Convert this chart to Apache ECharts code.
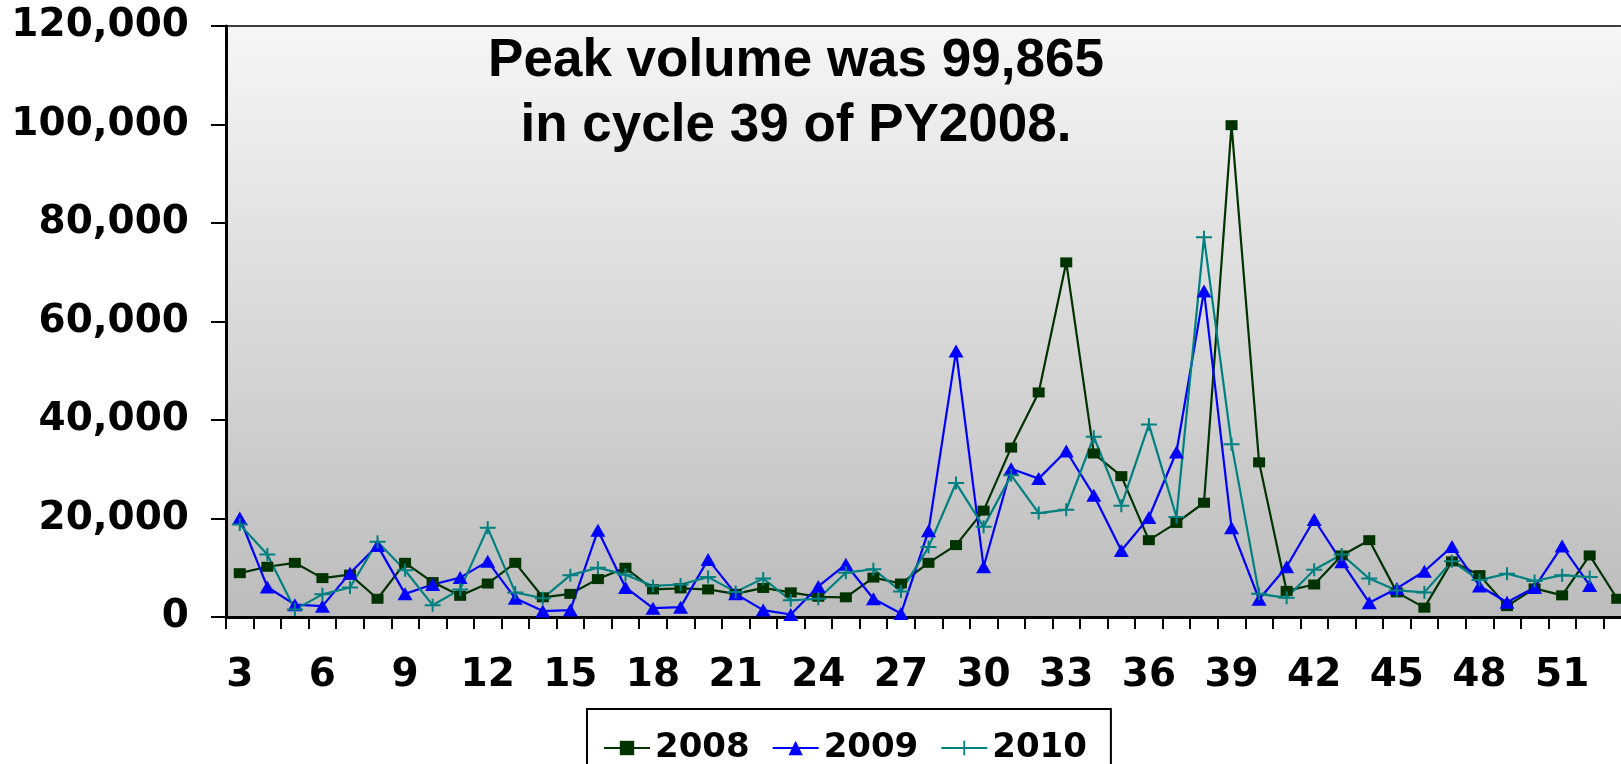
<!DOCTYPE html>
<html>
<head>
<meta charset="utf-8">
<title>Weekly volume by cycle</title>
<script src="https://cdn.jsdelivr.net/npm/echarts@6/dist/echarts.min.js"></script>
<style>
  html, body { margin: 0; padding: 0; background: #ffffff; }
  #chart { width: 1621px; height: 764px; }
</style>
</head>
<body>
<div id="chart"></div>
<script>
// Cycle numbers on the x axis
const cycles = [];
for (let c = 3; c <= 53; c++) cycles.push(String(c));

// Volume per cycle, one array per program year
const py2008 = [8900, 10200, 11000, 7900, 8600, 3700, 11000, 7100, 4300, 6800, 11000, 4000, 4700, 7700, 10000, 5600,
  5800, 5600, 4700, 5900, 5000, 4100, 4000, 8000, 6800, 11000, 14600, 21600, 34400, 45600, 72000, 33200,
  28600, 15600, 19100, 23200, 99865, 31400, 5300, 6600, 12500, 15600, 5000, 1900, 11300, 8500, 2200, 5800,
  4400, 12500, 3700];
const py2009 = [20100, 6100, 2500, 2200, 8900, 14500, 4700, 6600, 8000, 11300, 3800, 1200, 1400, 17600, 6000, 1800,
  2000, 11700, 4700, 1400, 500, 6200, 10700, 3700, 700, 17500, 54000, 10200, 30100, 28100, 33700, 24700,
  13500, 20200, 33500, 66200, 18100, 3600, 10200, 19800, 11200, 2900, 5800, 9300, 14300, 6300, 3000, 6000,
  14400, 6400];
const py2010 = [18800, 12700, 1500, 4600, 6000, 15300, 9500, 2400, 5600, 18100, 5000, 3800, 8500, 10000, 8600, 6300,
  6600, 8100, 5100, 7800, 3400, 3700, 9000, 9700, 5200, 14200, 27200, 18300, 28800, 21100, 21800, 36600,
  22600, 39100, 20300, 77100, 35100, 4700, 3900, 9600, 12700, 7800, 5400, 5000, 11300, 7500, 8800, 7300,
  8500, 8100];

const seriesNames = ['2008', '2009', '2010'];
const headline = 'Peak volume was 99,865\nin cycle 39 of PY2008.';

// Value axis range
const yMin = 0, yMax = 120000, yStep = 20000;

const labelFont = '"DejaVu Sans", sans-serif';
// Thin "+" marker in a 16x13 box
const plusPath = 'path://M0,5.5L16,5.5L16,7.5L0,7.5Z M7,0L9,0L9,13L7,13Z';

const chart = echarts.init(document.getElementById('chart'));

chart.setOption({
  animation: false,
  backgroundColor: '#ffffff',
  grid: {
    left: 226, top: 26, width: 1405, height: 591,
    outerBoundsMode: 'none',
    show: true,
    borderColor: '#000000',
    borderWidth: 1.5,
    backgroundColor: new echarts.graphic.LinearGradient(0, 0, 0, 1, [
      { offset: 0, color: '#f6f6f6' },
      { offset: 1, color: '#bcbcbc' }
    ])
  },
  graphic: [{
    type: 'text',
    x: 796, y: 29,
    z: 100,
    style: {
      text: headline,
      fill: '#000000',
      fontFamily: '"Liberation Sans", Arial, sans-serif',
      fontWeight: 'bold',
      fontSize: 53,
      lineHeight: 65,
      align: 'center',
      verticalAlign: 'top'
    }
  }],
  legend: {
    data: seriesNames,
    left: 587, top: 709,
    orient: 'horizontal',
    padding: [22, 24, 22, 16],
    itemGap: 22,
    itemWidth: 46,
    itemHeight: 18,
    borderColor: '#000000',
    borderWidth: 2,
    backgroundColor: '#ffffff',
    textStyle: { fontFamily: labelFont, fontWeight: 'bold', fontSize: 34, color: '#000000' }
  },
  xAxis: {
    type: 'category',
    data: cycles,
    boundaryGap: true,
    axisLine: { show: true, lineStyle: { color: '#000000', width: 3 } },
    axisTick: { show: true, interval: 0, length: 12, inside: false, lineStyle: { color: '#000000', width: 2 } },
    axisLabel: { interval: 2, margin: 39, color: '#000000', fontFamily: labelFont, fontWeight: 'bold', fontSize: 39 },
    splitLine: { show: false }
  },
  yAxis: {
    type: 'value',
    min: yMin, max: yMax, interval: yStep,
    axisLine: { show: true, lineStyle: { color: '#000000', width: 3 } },
    axisTick: { show: true, length: 15, inside: false, lineStyle: { color: '#000000', width: 2 } },
    axisLabel: {
      margin: 37, color: '#000000', fontFamily: labelFont, fontWeight: 'bold', fontSize: 39,
      formatter: v => v.toLocaleString('en-US')
    },
    splitLine: { show: false }
  },
  series: [
    {
      name: seriesNames[0], type: 'line', data: py2008,
      symbol: 'rect', symbolSize: [12, 10], showAllSymbol: true,
      lineStyle: { color: '#003300', width: 2.2 },
      itemStyle: { color: '#003300' }
    },
    {
      name: seriesNames[1], type: 'line', data: py2009,
      symbol: 'triangle', symbolSize: [15, 13], showAllSymbol: true,
      lineStyle: { color: '#0000ff', width: 2.2 },
      itemStyle: { color: '#0000ff' }
    },
    {
      name: seriesNames[2], type: 'line', data: py2010,
      symbol: plusPath, symbolSize: [16, 13], showAllSymbol: true,
      lineStyle: { color: '#008080', width: 2.2 },
      itemStyle: { color: '#008080' }
    }
  ]
});
</script>
</body>
</html>
